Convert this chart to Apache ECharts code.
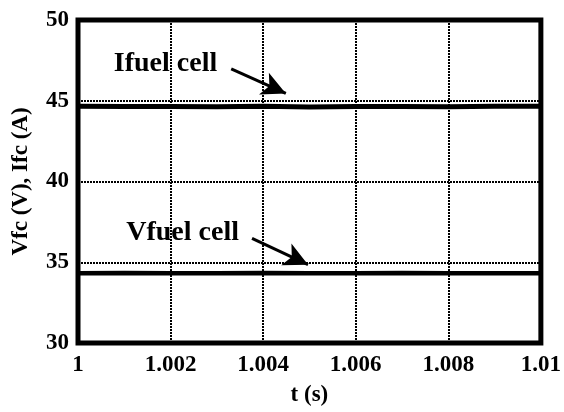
<!DOCTYPE html>
<html>
<head>
<meta charset="utf-8">
<script src="https://cdn.jsdelivr.net/npm/echarts@6/dist/echarts.min.js"></script>
<style>html,body{margin:0;padding:0;background:#fff;}#c{width:564px;height:412px;}</style>
</head>
<body>
<div id="c"></div>
<script>
var tValues = [1.000, 1.001, 1.002, 1.003, 1.004, 1.005, 1.006, 1.007, 1.008, 1.009, 1.010];
var iFuel = [44.66, 44.64, 44.65, 44.63, 44.66, 44.62, 44.64, 44.65, 44.63, 44.66, 44.66];
var vFuel = [34.32, 34.33, 34.32, 34.32, 34.33, 34.32, 34.32, 34.33, 34.32, 34.32, 34.32];
var xTickLabels = ['1', '1.002', '1.004', '1.006', '1.008', '1.01'];
var yTickLabels = ['30', '35', '40', '45', '50'];
var iLabel = 'Ifuel cell';
var vLabel = 'Vfuel cell';

var font = '"Liberation Serif", "Times New Roman", serif';
var chart = echarts.init(document.getElementById('c'));
function pairs(xs, ys) { return xs.map(function (x, i) { return [x, ys[i]]; }); }

chart.setOption({
  animation: false,
  backgroundColor: '#fff',
  grid: { left: 78, right: 21, top: 20, bottom: 62, show: true, borderColor: '#000', borderWidth: 5, backgroundColor: 'transparent' },
  xAxis: {
    type: 'value', min: 1.000, max: 1.010, interval: 0.002,
    name: 't (s)', nameLocation: 'middle', nameGap: 41,
    nameTextStyle: { fontFamily: font, fontWeight: 'bold', fontSize: 23, color: '#000' },
    axisLine: { show: false },
    axisTick: { show: false },
    axisLabel: {
      margin: 11, fontFamily: font, fontWeight: 'bold', fontSize: 23, color: '#000',
      formatter: function (v) { var i = Math.round((v - 1) / 0.002); return xTickLabels[i]; }
    },
    splitLine: { show: true, lineStyle: { color: '#000', width: 2, type: [2, 1] } }
  },
  yAxis: {
    type: 'value', min: 30, max: 50, interval: 5,
    name: 'Vfc (V), Ifc (A)', nameLocation: 'middle', nameGap: 45,
    nameTextStyle: { fontFamily: font, fontWeight: 'bold', fontSize: 23, color: '#000' },
    axisLine: { show: false },
    axisTick: { show: false },
    axisLabel: {
      margin: 9, fontFamily: font, fontWeight: 'bold', fontSize: 23, color: '#000',
      formatter: function (v) { return yTickLabels[Math.round((v - 30) / 5)]; }
    },
    splitLine: { show: true, lineStyle: { color: '#000', width: 2, type: [2, 1] } }
  },
  series: [
    {
      name: iLabel, type: 'line', data: pairs(tValues, iFuel), showSymbol: false,
      lineStyle: { color: '#000', width: 5 }, z: 5,
      markLine: {
        silent: true, symbol: ['none', 'arrow'], symbolSize: [18, 24],
        lineStyle: { color: '#000', width: 3, type: 'solid' }, label: { show: false },
        data: [[{ coord: [1.00331, 46.97] }, { coord: [1.00449, 45.45] }]]
      },
      markPoint: {
        symbol: 'circle', symbolSize: 0, silent: true,
        label: { show: true, formatter: iLabel, fontFamily: font, fontWeight: 'bold', fontSize: 28, color: '#000', position: 'inside' },
        data: [{ coord: [1.00189, 47.27] }]
      }
    },
    {
      name: vLabel, type: 'line', data: pairs(tValues, vFuel), showSymbol: false,
      lineStyle: { color: '#000', width: 4.5 }, z: 5,
      markLine: {
        silent: true, symbol: ['none', 'arrow'], symbolSize: [18, 24],
        lineStyle: { color: '#000', width: 3, type: 'solid' }, label: { show: false },
        data: [[{ coord: [1.00376, 36.48] }, { coord: [1.00497, 34.85] }]]
      },
      markPoint: {
        symbol: 'circle', symbolSize: 0, silent: true,
        label: { show: true, formatter: vLabel, fontFamily: font, fontWeight: 'bold', fontSize: 28, color: '#000', position: 'inside' },
        data: [{ coord: [1.00226, 36.85] }]
      }
    }
  ]
});
</script>
</body>
</html>
